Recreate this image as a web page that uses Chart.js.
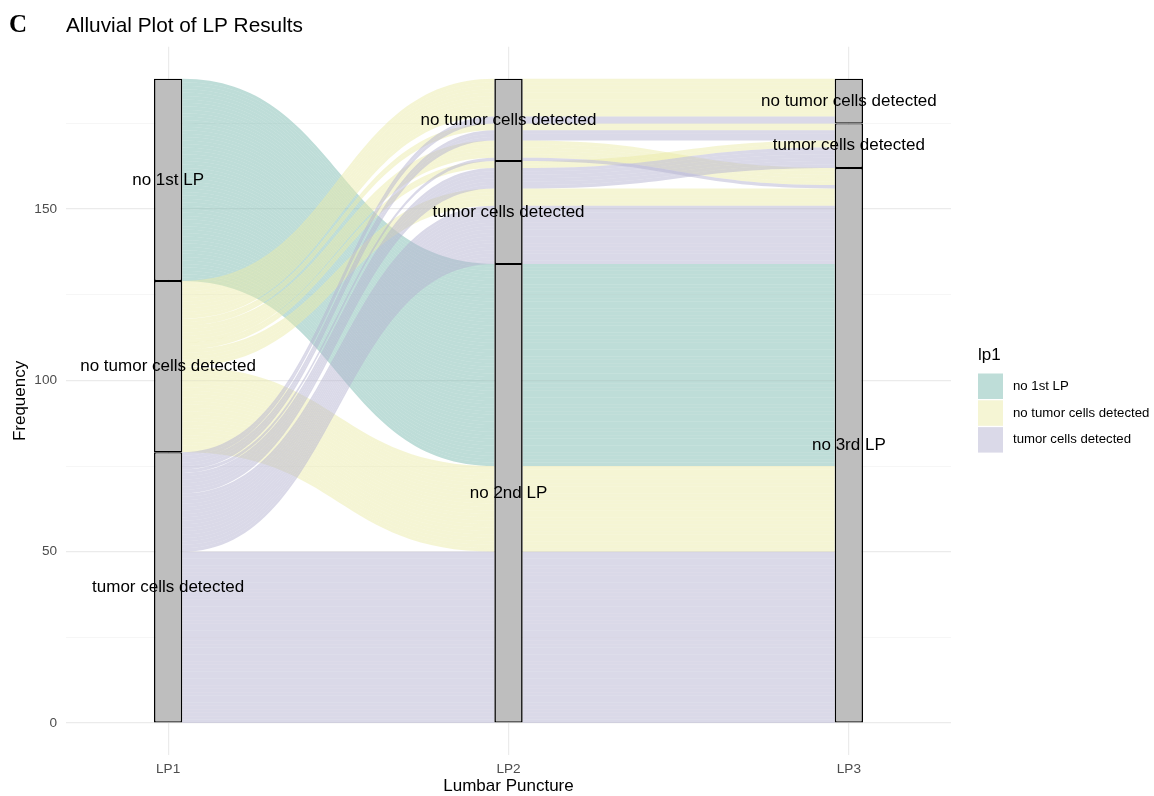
<!DOCTYPE html>
<html lang="en">
<head>
<meta charset="UTF-8">
<title>Alluvial Plot of LP Results</title>
<script src="https://cdn.jsdelivr.net/npm/chart.js"></script>
<style>
html, body { margin: 0; padding: 0; background: #fff; }
.chart-container { width: 1154px; height: 796px; position: relative; }
</style>
</head>
<body>
<div class="chart-container"><canvas id="alluvial"></canvas></div>
<script>
const N1 = 'no 1st LP', N2 = 'no 2nd LP', N3 = 'no 3rd LP';
const NT = 'no tumor cells detected', TC = 'tumor cells detected';

// lumbar punctures on the x axis
const punctures = ['LP1', 'LP2', 'LP3'];

// strata of each puncture, top to bottom
const strataLP1 = [N1, NT, TC];
const strataLP2 = [NT, TC, N2];
const strataLP3 = [NT, TC, N3];

// result combinations and how many patients follow each one
const lp1 = [N1, NT, NT, NT, NT, NT, NT, TC, TC, TC, TC, TC, TC];
const lp2 = [N2, NT, NT, NT, TC, TC, N2, NT, NT, NT, TC, TC, N2];
const lp3 = [N3, NT, TC, N3, TC, N3, N3, NT, TC, N3, TC, N3, N3];
const patients = [59, 11, 2, 5, 2, 5, 25, 2, 3, 1, 6, 17, 50];

// alluvium fill per lp1 result
const lp1Colors = ['rgba(125,187,177,0.5)', 'rgba(235,235,169,0.5)', 'rgba(181,179,209,0.5)'];

const stratumWidth = 1 / 12;
const strata = [strataLP1, strataLP2, strataLP3];
const paths = lp1.map((_, i) => [lp1[i], lp2[i], lp3[i]]);
// which other punctures decide the stacking order inside a stratum
const lodeOrder = [[1, 2], [2, 0], [1, 0]];
const total = patients.reduce((a, b) => a + b, 0);

// stack strata and lodes on every axis
const lodes = paths.map(() => []);
const strataBoxes = [];
strata.forEach((levels, a) => {
  let top = total;
  const rank = (i, b) => strata[b].indexOf(paths[i][b]);
  levels.forEach(level => {
    const members = paths.map((p, i) => i).filter(i => paths[i][a] === level);
    members.sort((i, j) => {
      for (const b of lodeOrder[a]) {
        const d = rank(i, b) - rank(j, b);
        if (d) return d;
      }
      return 0;
    });
    const n = members.reduce((s, i) => s + patients[i], 0);
    strataBoxes.push({ axis: a, label: level, lo: top - n, hi: top });
    let y = top;
    members.forEach(i => { lodes[i][a] = [y - patients[i], y]; y -= patients[i]; });
    top -= n;
  });
});

const FONT = "'Liberation Sans', Arial, Helvetica, sans-serif";
Chart.defaults.font.family = FONT;

// one ribbon per patient between neighbouring punctures
const alluvia = {
  id: 'alluvia',
  beforeDatasetsDraw(chart) {
    const { ctx, chartArea, scales: { x, y } } = chart;
    ctx.save();
    ctx.beginPath();
    ctx.rect(chartArea.left, chartArea.top, chartArea.width, chartArea.height);
    ctx.clip();
    paths.forEach((p, i) => {
      ctx.fillStyle = lp1Colors[strataLP1.indexOf(p[0])];
      for (let k = 0; k < patients[i]; k++) {
        for (let a = 0; a < punctures.length - 1; a++) {
          const x0 = x.getPixelForValue(a + 1 + stratumWidth / 2);
          const x1 = x.getPixelForValue(a + 2 - stratumWidth / 2);
          const xm = (x0 + x1) / 2;
          const t0 = y.getPixelForValue(lodes[i][a][1] - k);
          const b0 = y.getPixelForValue(lodes[i][a][1] - k - 1);
          const t1 = y.getPixelForValue(lodes[i][a + 1][1] - k);
          const b1 = y.getPixelForValue(lodes[i][a + 1][1] - k - 1);
          ctx.beginPath();
          ctx.moveTo(x0, t0);
          ctx.bezierCurveTo(xm, t0, xm, t1, x1, t1);
          ctx.lineTo(x1, b1);
          ctx.bezierCurveTo(xm, b1, xm, b0, x0, b0);
          ctx.closePath();
          ctx.fill();
        }
      }
    });
    ctx.restore();
  }
};

// stratum names, panel tag and lp1 legend
const annotations = {
  id: 'annotations',
  afterDatasetsDraw(chart) {
    const { ctx, scales: { x, y } } = chart;
    ctx.save();
    ctx.fillStyle = '#000';
    ctx.font = `17px ${FONT}`;
    ctx.textAlign = 'center';
    ctx.textBaseline = 'middle';
    strataBoxes.forEach(s => {
      ctx.fillText(s.label, x.getPixelForValue(s.axis + 1), y.getPixelForValue((s.lo + s.hi) / 2));
    });
    ctx.restore();
  },
  afterDraw(chart) {
    const { ctx, chartArea } = chart;
    ctx.save();
    ctx.fillStyle = '#000';
    ctx.font = "bold 25px 'Liberation Serif', 'Times New Roman', serif";
    ctx.textBaseline = 'alphabetic';
    ctx.fillText('C', 9, 32);

    const lx = chartArea.right + 27;
    ctx.font = `17px ${FONT}`;
    ctx.textBaseline = 'middle';
    ctx.fillText('lp1', lx, 355);
    ctx.font = `13.2px ${FONT}`;
    strataLP1.forEach((label, i) => {
      const top = 373.5 + i * 26.8;
      ctx.fillStyle = lp1Colors[i];
      ctx.fillRect(lx, top, 25, 25.5);
      ctx.fillStyle = '#000';
      ctx.fillText(label, lx + 35, top + 12.75);
    });
    ctx.restore();
  }
};

new Chart(document.getElementById('alluvial'), {
  type: 'bar',
  data: {
    datasets: [{
      data: strataBoxes.map(s => ({ x: s.axis + 1, y: [s.lo, s.hi] })),
      backgroundColor: '#BEBEBE',
      borderColor: '#000',
      borderWidth: { left: 1.6, right: 1.6, top: 1.2, bottom: 1.2 },
      borderSkipped: false,
      barPercentage: stratumWidth,
      categoryPercentage: 1
    }]
  },
  options: {
    responsive: true,
    maintainAspectRatio: false,
    animation: false,
    events: [],
    layout: { padding: { left: 0, right: 203, top: 0, bottom: 0 } },
    plugins: {
      legend: { display: false },
      tooltip: { enabled: false },
      title: {
        display: true,
        text: 'Alluvial Plot of LP Results',
        align: 'start',
        fullSize: false,
        color: '#000',
        font: { size: 20.8, weight: 'normal' },
        padding: { top: 14, bottom: 7.7 }
      }
    },
    scales: {
      x: {
        type: 'linear',
        min: 0.7,
        max: 3.3,
        offset: false,
        grid: { offset: false, color: '#EBEBEB', lineWidth: 1.2, drawTicks: false },
        border: { display: false },
        ticks: {
          stepSize: 1,
          includeBounds: false,
          padding: 5.6,
          color: '#4D4D4D',
          font: { size: 13.6 },
          callback: v => punctures[v - 1] ?? ''
        },
        title: {
          display: true,
          text: 'Lumbar Puncture',
          color: '#000',
          font: { size: 17 },
          padding: { top: 0, bottom: -1 }
        },
        afterFit: s => { s.height = 40.8; }
      },
      y: {
        type: 'linear',
        min: -9.4,
        max: 197.4,
        grid: {
          color: c => (c.tick.value % 50 === 0 ? '#EBEBEB' : '#F2F2F2'),
          lineWidth: c => (c.tick.value % 50 === 0 ? 1.2 : 0.7),
          drawTicks: false
        },
        border: { display: false },
        ticks: {
          stepSize: 25,
          includeBounds: false,
          padding: 9,
          color: '#4D4D4D',
          font: { size: 13.6 },
          callback: v => (v % 50 === 0 ? v : '')
        },
        title: {
          display: true,
          text: 'Frequency',
          color: '#000',
          font: { size: 17 },
          padding: { top: 10, bottom: 0 }
        },
        afterFit: s => { s.width = 66; }
      }
    }
  },
  plugins: [alluvia, annotations]
});
</script>
</body>
</html>
